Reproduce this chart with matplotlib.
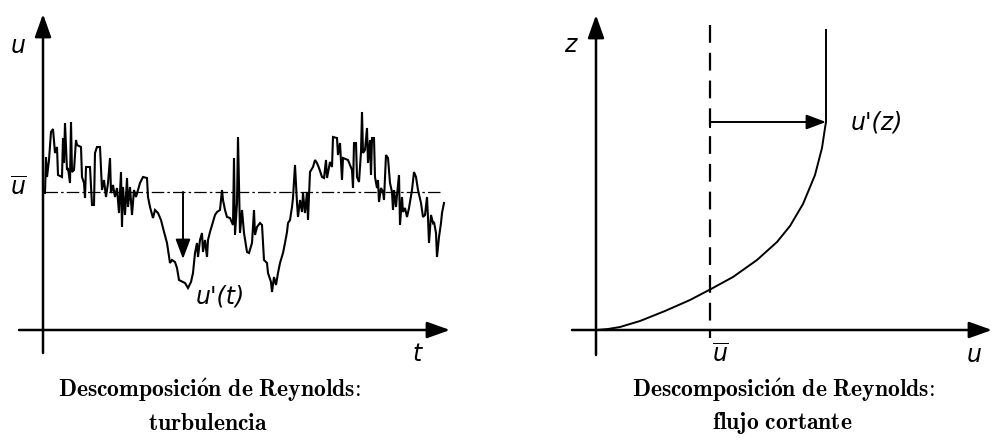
import numpy as np
import matplotlib
matplotlib.use("Agg")
import matplotlib.pyplot as plt
from matplotlib.patches import FancyArrowPatch

plt.rcParams['mathtext.fontset'] = 'cm'

# fluctuating signal u(t) (image pixels: column, row)
t_trace = [45, 46, 47, 49, 51, 53, 55, 57, 58, 62, 63, 64, 65, 67, 68, 70, 71, 72, 74, 76,
           77, 81, 82, 84, 85, 86, 90, 92, 94, 95, 97, 100, 102, 104, 106, 108, 110, 111, 113, 115,
           117, 119, 121, 122, 123, 125, 127, 128, 130, 132, 134, 136, 138, 140, 143, 147, 148, 150, 153, 155,
           158, 161, 163, 167, 170, 172, 175, 177, 179, 183, 185, 188, 191, 193, 195, 197, 198, 200, 202, 203,
           205, 207, 208, 210, 213, 215, 217, 220, 222, 223, 225, 227, 230, 233, 234, 235, 237, 238, 240, 242,
           244, 247, 249, 252, 254, 255, 257, 260, 262, 264, 267, 268, 271, 272, 274, 276, 278, 280, 283, 285,
           287, 288, 290, 292, 293, 295, 297, 298, 300, 302, 303, 305, 307, 308, 310, 313, 315, 317, 319, 322,
           324, 326, 327, 330, 332, 333, 337, 338, 340, 342, 343, 348, 352, 353, 354, 356, 357, 359, 361, 362,
           363, 365, 367, 368, 370, 371, 372, 374, 375, 377, 378, 379, 381, 383, 384, 386, 388, 390, 392, 393,
           394, 396, 397, 399, 400, 402, 403, 405, 407, 409, 412, 414, 416, 418, 421, 423, 425, 427, 428, 429,
           431, 433, 434, 436, 437, 439, 441, 442, 444]
u_trace = [193, 157, 177, 160, 132, 129, 153, 147, 175, 177, 138, 163, 123, 170, 168, 183, 122, 172, 170, 140,
           145, 147, 177, 183, 198, 167, 167, 205, 205, 153, 147, 147, 190, 180, 197, 183, 158, 193, 185, 197,
           188, 213, 172, 227, 187, 215, 178, 207, 187, 215, 190, 197, 190, 183, 177, 178, 197, 207, 218, 210,
           213, 220, 228, 243, 263, 260, 262, 268, 280, 282, 283, 288, 282, 273, 253, 243, 257, 240, 233, 252,
           240, 257, 240, 232, 222, 215, 212, 210, 190, 200, 210, 217, 218, 225, 158, 235, 203, 137, 233, 210,
           233, 252, 253, 243, 210, 235, 227, 223, 225, 260, 263, 273, 282, 292, 277, 285, 273, 263, 253, 243,
           232, 223, 220, 207, 198, 165, 203, 217, 200, 212, 193, 213, 192, 220, 172, 167, 160, 163, 168, 177,
           178, 160, 178, 162, 167, 137, 138, 155, 143, 180, 158, 160, 170, 188, 143, 143, 177, 182, 152, 112,
           153, 150, 128, 163, 140, 175, 138, 138, 177, 188, 180, 202, 188, 192, 200, 155, 158, 183, 192, 210,
           190, 207, 195, 175, 225, 197, 212, 208, 217, 208, 190, 172, 177, 190, 203, 217, 215, 197, 218, 243,
           215, 223, 222, 233, 257, 237, 223, 213, 203]
u_mean_row = 192

# shear profile u(z) (image pixels)
prof_x = [597, 608, 620, 640, 665, 690, 711, 733, 757, 777, 790, 803, 815, 822, 825, 826, 826]
prof_z = [330, 329, 327, 321, 311, 300, 289, 277, 260, 242, 226, 204, 175, 148, 128, 122, 30]
ubar_col = 710
fluct_row = 122

W, H = 993, 444
fig = plt.figure(figsize=(W / 100, H / 100), dpi=100)
ax = fig.add_axes([0, 0, 1, 1])
ax.set_xlim(0, W)
ax.set_ylim(H, 0)
ax.axis('off')


def arrow(p0, p1, lw=1.8, hl=14, hw=5):
    a = FancyArrowPatch(p0, p1, arrowstyle=f'-|>,head_length={hl / 10},head_width={hw / 10}',
                        mutation_scale=10, lw=lw, color='black', shrinkA=0, shrinkB=0)
    ax.add_patch(a)


lab = dict(fontsize=17, style='italic', family='DejaVu Sans', ha='center', va='center',
           math_fontfamily='dejavusans')
ubar = r'$\overline{u}$'

# ---- left panel: turbulence ----
arrow((43, 353), (43, 14))
arrow((19, 330), (450, 330))
ax.plot([45, 443], [u_mean_row, u_mean_row], color='black', lw=0.9,
        linestyle=(0, (10, 2.5, 2, 2.5)))
ax.plot(t_trace, u_trace, color='black', lw=1.5, solid_joinstyle='miter')
arrow((183, u_mean_row), (183, 259), lw=1.4, hl=12, hw=4.5)
ax.text(18, 46, 'u', **lab)
ax.text(18, 188, ubar, **lab)
ax.text(417, 354, 't', **lab)
ax.text(220, 296, "u'(t)", **lab)

# ---- right panel: shear flow ----
arrow((596, 355), (596, 15))
arrow((572, 330), (992, 330))
ax.plot([ubar_col, ubar_col], [25, 338], color='black', lw=1.6, linestyle=(0, (8, 4.5)))
ax.plot(prof_x, prof_z, color='black', lw=1.4)
arrow((ubar_col, fluct_row), (prof_x[-2], fluct_row), lw=1.4, hl=12, hw=4.5)
ax.plot([ubar_col, ubar_col], [fluct_row - 5, fluct_row + 5], color='black', lw=1.4)
ax.text(570, 45, 'z', **lab)
ax.text(720, 355, ubar, **lab)
ax.text(974, 355, 'u', **lab)
ax.text(877, 122, "u'(z)", **lab)

# ---- captions ----
cap = dict(fontsize=17, ha='center', va='center')
head = r'$\mathbf{Descomposici\acute{o}n\ de\ Reynolds\!:}$'
ax.text(210, 390, head, **cap)
ax.text(208, 423, r'$\mathbf{turbulencia}$', **cap)
ax.text(784, 390, head, **cap)
ax.text(782, 423, r'$\mathbf{flujo\ cortante}$', **cap)

fig.savefig('out.png', dpi=100)
